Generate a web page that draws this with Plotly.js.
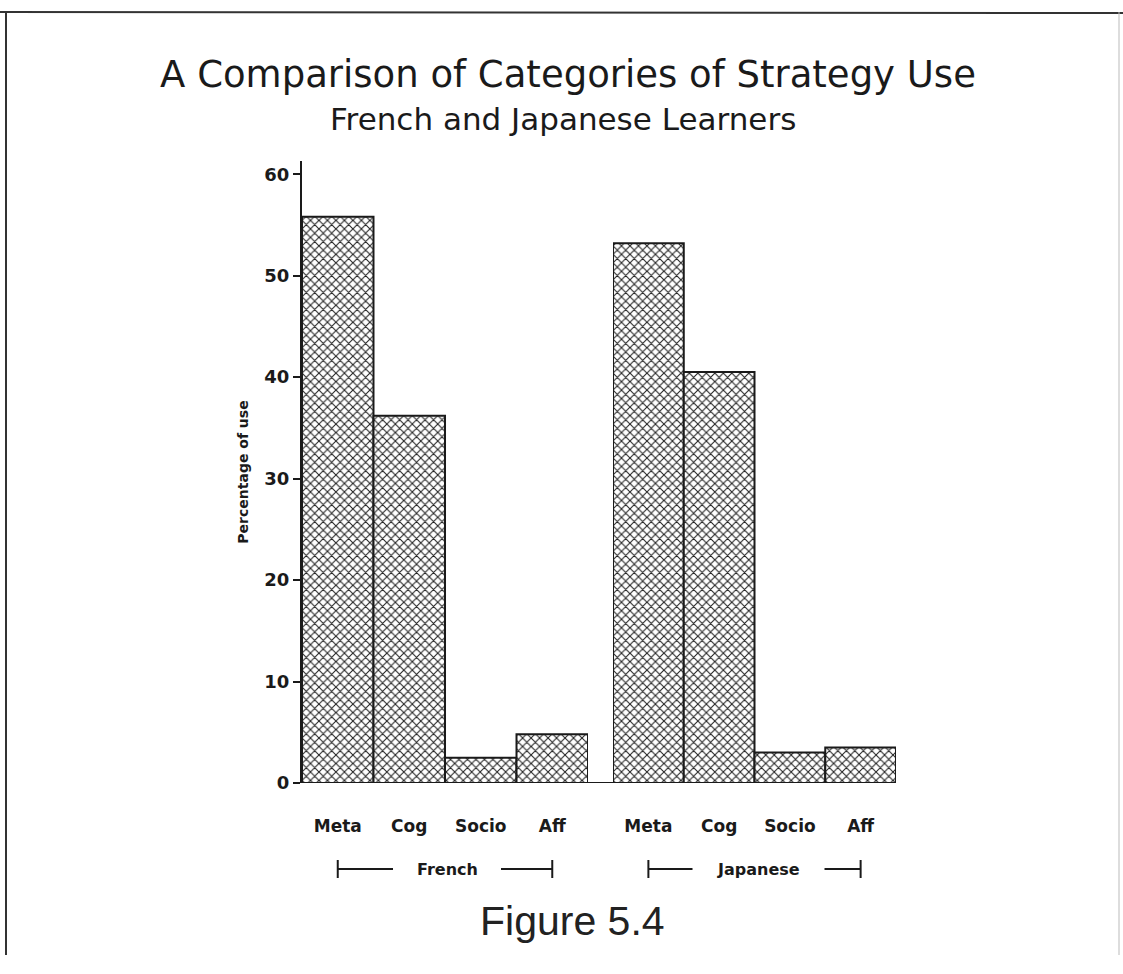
<!DOCTYPE html>
<html>
<head>
<meta charset="utf-8">
<script src="https://cdn.plot.ly/plotly-3.0.1.min.js"></script>
<style>html,body{margin:0;padding:0;background:#fff;}</style>
</head>
<body>
<div id="chart" style="width:1123px;height:974px;"></div>
<script>
// ---- data ----
const categories = ['Meta', 'Cog', 'Socio', 'Aff'];
const frenchValues = [55.8, 36.2, 2.5, 4.8];
const japaneseValues = [53.2, 40.5, 3.0, 3.5];
const groupLabels = ['French', 'Japanese'];
const yTickVals = [0, 10, 20, 30, 40, 50, 60];
const yTickText = ['0', '10', '20', '30', '40', '50', '60'];

// ---- layout geometry ----
const W = 1123, H = 974;
const M = {l: 302, r: 227, t: 161, b: 191};
const plotW = W - M.l - M.r, plotH = H - M.t - M.b;
const px2x = p => (p - M.l) / plotW;
const py2y = p => (H - M.b - p) / plotH;
const domains = [[0, 0.4815], [0.5236, 1]];
const ink = '#1a1a1a';

const barStyle = {
  color: 'white',
  line: {color: ink, width: 2},
  pattern: {shape: 'x', bgcolor: 'white', fgcolor: '#222', size: 6, solidity: 0.32}
};

const traces = [
  {type: 'bar', x: categories, y: frenchValues, name: groupLabels[0], xaxis: 'x', yaxis: 'y', marker: barStyle, hoverinfo: 'x+y'},
  {type: 'bar', x: categories, y: japaneseValues, name: groupLabels[1], xaxis: 'x2', yaxis: 'y', marker: barStyle, hoverinfo: 'x+y'}
];

const tickFont = {family: 'DejaVu Sans', size: 17, color: ink, weight: 'bold'};
const xAxisBase = {
  type: 'category', showline: false, showgrid: false, zeroline: false,
  ticks: '', tickfont: tickFont, ticklabelstandoff: 31, fixedrange: true, anchor: 'y'
};

const shapes = [];
const annotations = [];
const brY = py2y(869), brTop = py2y(860), brBot = py2y(878);
const gapHalfPx = [54, 66];
domains.forEach((d, g) => {
  const step = (d[1] - d[0]) / categories.length;
  const xl = d[0] + 0.5 * step;
  const xr = d[0] + (categories.length - 0.5) * step;
  const xc = (xl + xr) / 2 + (g === 1 ? 4 / plotW : 2 / plotW);
  const gh = gapHalfPx[g] / plotW;
  const ln = {type: 'line', xref: 'paper', yref: 'paper', line: {color: ink, width: 2}};
  shapes.push(Object.assign({}, ln, {x0: xl, x1: xl, y0: brTop, y1: brBot}));
  shapes.push(Object.assign({}, ln, {x0: xr, x1: xr, y0: brTop, y1: brBot}));
  shapes.push(Object.assign({}, ln, {x0: xl, x1: xc - gh, y0: brY, y1: brY}));
  shapes.push(Object.assign({}, ln, {x0: xc + gh, x1: xr, y0: brY, y1: brY}));
  annotations.push({xref: 'paper', yref: 'paper', x: xc, y: brY, text: groupLabels[g], showarrow: false,
    font: {family: 'DejaVu Sans', size: 16, color: ink, weight: 'bold'}, xanchor: 'center', yanchor: 'middle'});
});

// baseline across both groups
shapes.push({type: 'line', xref: 'paper', yref: 'y', x0: 0, x1: 1, y0: 0, y1: 0, line: {color: ink, width: 2}});
// frame of the page
const frame = {type: 'line', xref: 'paper', yref: 'paper', line: {color: '#333', width: 2}};
shapes.push(Object.assign({}, frame, {x0: px2x(0), x1: px2x(1123), y0: py2y(12), y1: py2y(13)}));
shapes.push(Object.assign({}, frame, {x0: px2x(6), x1: px2x(6), y0: py2y(12), y1: py2y(955)}));
shapes.push(Object.assign({}, frame, {x0: px2x(1119), x1: px2x(1119), y0: py2y(12), y1: py2y(955), line: {color: '#bbb', width: 1}}));

// subtitle
annotations.push({xref: 'paper', yref: 'paper', x: px2x(563), y: py2y(119), text: 'French and Japanese Learners', showarrow: false,
  font: {family: 'DejaVu Sans', size: 31, color: ink, weight: 400}, xanchor: 'center', yanchor: 'middle'});
// caption
annotations.push({xref: 'paper', yref: 'paper', x: px2x(572), y: py2y(921), text: 'Figure 5.4', showarrow: false,
  font: {family: 'Liberation Sans', size: 41, color: '#222'}, xanchor: 'center', yanchor: 'middle'});

const layout = {
  width: W, height: H,
  margin: M,
  paper_bgcolor: 'white', plot_bgcolor: 'white',
  showlegend: false,
  bargap: 0,
  title: {
    text: 'A Comparison of Categories of Strategy Use',
    font: {family: 'DejaVu Sans', size: 37, color: ink, weight: 400},
    x: 568 / W, xref: 'container', xanchor: 'center',
    y: 1 - 74 / H, yref: 'container', yanchor: 'middle'
  },
  xaxis: Object.assign({}, xAxisBase, {domain: domains[0]}),
  xaxis2: Object.assign({}, xAxisBase, {domain: domains[1]}),
  yaxis: {
    range: [0, 61.3], tickvals: yTickVals, ticktext: yTickText,
    ticks: 'outside', ticklen: 7, tickwidth: 2, tickcolor: ink,
    showline: true, linewidth: 2, linecolor: ink,
    showgrid: false, zeroline: false, fixedrange: true,
    tickfont: {family: 'DejaVu Sans', size: 18, color: ink, weight: 'bold'},
    title: {text: 'Percentage of use', standoff: 12,
      font: {family: 'DejaVu Sans', size: 14, color: ink, weight: 'bold'}}
  },
  shapes: shapes,
  annotations: annotations
};

Plotly.newPlot('chart', traces, layout, {displayModeBar: false, staticPlot: true});
</script>
</body>
</html>
